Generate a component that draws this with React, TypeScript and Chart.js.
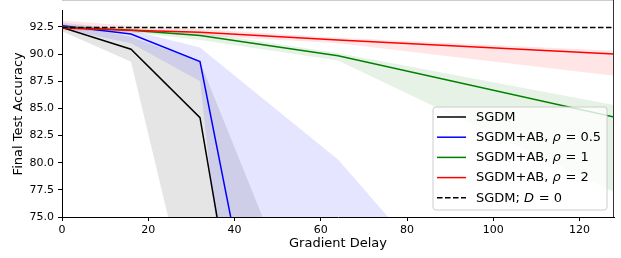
import React, { useEffect, useRef } from "react";
import { Chart, registerables } from "chart.js";

Chart.register(...registerables);

// ---- data ----
const delays = [0, 16, 32, 64, 128];

const sgdmMean = [92.45, 90.45, 84.15, 10.0, 10.0];
const sgdmUpper = [92.8, 91.6, 89.3, 57.8, 40.0];
const sgdmLower = [92.1, 89.3, 62.7, 0.0, 0.0];

const abHalfMean = [92.6, 91.85, 89.3, 25.0, 15.0];
const abHalfUpper = [92.9, 92.2, 90.6, 80.3, 51.2];
const abHalfLower = [92.3, 91.0, 87.5, -26.8, -21.0];

const abOneMean = [92.5, 92.2, 91.7, 89.85, 84.2];
const abOneUpper = [92.7, 92.4, 92.0, 90.1, 85.3];
const abOneLower = [92.3, 92.0, 91.3, 89.4, 77.3];

const abTwoMean = [92.4, 92.2, 92.0, 91.3, 90.0];
const abTwoUpper = [93.1, 92.6, 92.3, 91.5, 90.3];
const abTwoLower = [92.2, 92.0, 91.7, 91.0, 88.0];

const baselineDelays = [0, 128];
const baselineAcc = [92.45, 92.45];

const xTicks = [0, 20, 40, 60, 80, 100, 120];
const yTicks = [75, 77.5, 80, 82.5, 85, 87.5, 90, 92.5];

const xTitle = "Gradient Delay";
const yTitle = "Final Test Accuracy";

// legend labels: segments [text, italic]
const legendLabels: [string, boolean][][] = [
  [["SGDM", false]],
  [["SGDM+AB, ", false], ["ρ", true], [" = 0.5", false]],
  [["SGDM+AB, ", false], ["ρ", true], [" = 1", false]],
  [["SGDM+AB, ", false], ["ρ", true], [" = 2", false]],
  [["SGDM; ", false], ["D", true], [" = 0", false]],
];
const legendColors = ["#000000", "#0000ff", "#008000", "#ff0000", "#000000"];
const legendDashed = [false, false, false, false, true];

const FONT = '"DejaVu Sans", sans-serif';

const pts = (xs: number[], ys: number[]) => xs.map((x, i) => ({ x, y: ys[i] }));

const band = (upper: number[], lower: number[], color: string, order: number) => [
  {
    data: pts(delays, upper),
    borderWidth: 0,
    borderColor: "rgba(0,0,0,0)",
    backgroundColor: color,
    fill: "+1",
    pointRadius: 0,
    order,
  },
  {
    data: pts(delays, lower),
    borderWidth: 0,
    borderColor: "rgba(0,0,0,0)",
    backgroundColor: color,
    fill: false,
    pointRadius: 0,
    order: order - 1,
  },
];

const line = (xs: number[], ys: number[], color: string, order: number, dash: number[] = []) => ({
  data: pts(xs, ys),
  borderColor: color,
  borderWidth: 1.5,
  borderDash: dash,
  fill: false,
  pointRadius: 0,
  order,
});

const decorPlugin = {
  id: "decor",
  afterDraw(chart: any) {
    const ctx = chart.ctx as CanvasRenderingContext2D;
    const ca = chart.chartArea;
    ctx.save();
    // top & right spines
    ctx.lineWidth = 1;
    ctx.strokeStyle = "#cccccc";
    ctx.beginPath();
    ctx.moveTo(ca.left, 0.5);
    ctx.lineTo(ca.right, 0.5);
    ctx.stroke();
    ctx.strokeStyle = "#333333";
    ctx.beginPath();
    ctx.moveTo(Math.round(ca.right) - 0.5, 0);
    ctx.lineTo(Math.round(ca.right) - 0.5, ca.bottom);
    ctx.stroke();

    // legend
    const bx = ca.right - 181;
    const by = ca.bottom - 110;
    const bw = 174;
    const bh = 103;
    const r = 3;
    ctx.beginPath();
    ctx.moveTo(bx + r, by);
    ctx.lineTo(bx + bw - r, by);
    ctx.arcTo(bx + bw, by, bx + bw, by + r, r);
    ctx.lineTo(bx + bw, by + bh - r);
    ctx.arcTo(bx + bw, by + bh, bx + bw - r, by + bh, r);
    ctx.lineTo(bx + r, by + bh);
    ctx.arcTo(bx, by + bh, bx, by + bh - r, r);
    ctx.lineTo(bx, by + r);
    ctx.arcTo(bx, by, bx + r, by, r);
    ctx.closePath();
    ctx.fillStyle = "rgba(255,255,255,0.8)";
    ctx.fill();
    ctx.strokeStyle = "#cccccc";
    ctx.lineWidth = 1;
    ctx.stroke();

    ctx.textBaseline = "middle";
    ctx.textAlign = "left";
    legendLabels.forEach((segs, i) => {
      const y = by + 10 + i * 20.2;
      ctx.beginPath();
      ctx.strokeStyle = legendColors[i];
      ctx.lineWidth = 1.5;
      ctx.setLineDash(legendDashed[i] ? [5.5, 2.5] : []);
      ctx.moveTo(bx + 4, y);
      ctx.lineTo(bx + 33, y);
      ctx.stroke();
      ctx.setLineDash([]);
      let x = bx + 43;
      ctx.fillStyle = "#000";
      segs.forEach(([t, it]) => {
        ctx.font = `${it ? "italic " : ""}13px ${FONT}`;
        ctx.fillText(t, x, y + 0.5);
        x += ctx.measureText(t).width + (it ? 0.5 : 0);
      });
    });
    ctx.restore();
  },
};

export default function App() {
  const ref = useRef<HTMLCanvasElement | null>(null);

  useEffect(() => {
    if (!ref.current) return;
    Chart.defaults.font.family = FONT;
    const chart = new Chart(ref.current, {
      type: "line",
      data: {
        datasets: [
          ...band(sgdmUpper, sgdmLower, "rgba(0,0,0,0.1)", 100),
          ...band(abHalfUpper, abHalfLower, "rgba(0,0,255,0.1)", 98),
          ...band(abOneUpper, abOneLower, "rgba(0,128,0,0.1)", 96),
          ...band(abTwoUpper, abTwoLower, "rgba(255,0,0,0.1)", 94),
          line(delays, sgdmMean, "#000000", 6),
          line(delays, abHalfMean, "#0000ff", 5),
          line(delays, abOneMean, "#008000", 4),
          line(delays, abTwoMean, "#ff0000", 3),
          line(baselineDelays, baselineAcc, "#000000", 2, [5.5, 2.5]),
        ] as any,
      },
      options: {
        animation: false,
        responsive: false,
        devicePixelRatio: 1,
        layout: { padding: { left: 0, right: 7, top: 0, bottom: 0 } },
        plugins: {
          legend: { display: false },
          tooltip: { enabled: false },
        },
        elements: { point: { radius: 0 }, line: { tension: 0 } },
        scales: {
          x: {
            type: "linear",
            min: 0,
            max: 128,
            afterBuildTicks: (s: any) => {
              s.ticks = xTicks.map((v) => ({ value: v }));
            },
            afterFit: (s: any) => {
              s.height = 41;
            },
            grid: { drawOnChartArea: false, drawTicks: true, tickLength: 4, color: "#000" },
            border: { display: true, color: "#000", width: 1 },
            ticks: {
              color: "#000",
              font: { size: 11, family: FONT },
              padding: 3,
              maxRotation: 0,
              autoSkip: false,
              callback: (v: any) => String(v),
            },
            title: {
              display: true,
              text: xTitle,
              color: "#000",
              font: { size: 13, family: FONT },
              padding: { top: 0, bottom: 7 },
            },
          },
          y: {
            type: "linear",
            min: 75,
            max: 94,
            afterBuildTicks: (s: any) => {
              s.ticks = yTicks.map((v) => ({ value: v }));
            },
            afterFit: (s: any) => {
              s.width = 62;
            },
            grid: { drawOnChartArea: false, drawTicks: true, tickLength: 4, color: "#000" },
            border: { display: true, color: "#000", width: 1 },
            ticks: {
              color: "#000",
              font: { size: 11, family: FONT },
              padding: 4,
              autoSkip: false,
              callback: (v: any) => Number(v).toFixed(1),
            },
            title: {
              display: true,
              text: yTitle,
              color: "#000",
              font: { size: 13, family: FONT },
              padding: { top: 11, bottom: 0 },
            },
          },
        },
      },
      plugins: [decorPlugin],
    });
    return () => chart.destroy();
  }, []);

  return (
    <canvas
      ref={ref}
      width={621}
      height={258}
      style={{ position: "absolute", left: 0, top: 0, display: "block" }}
    />
  );
}
